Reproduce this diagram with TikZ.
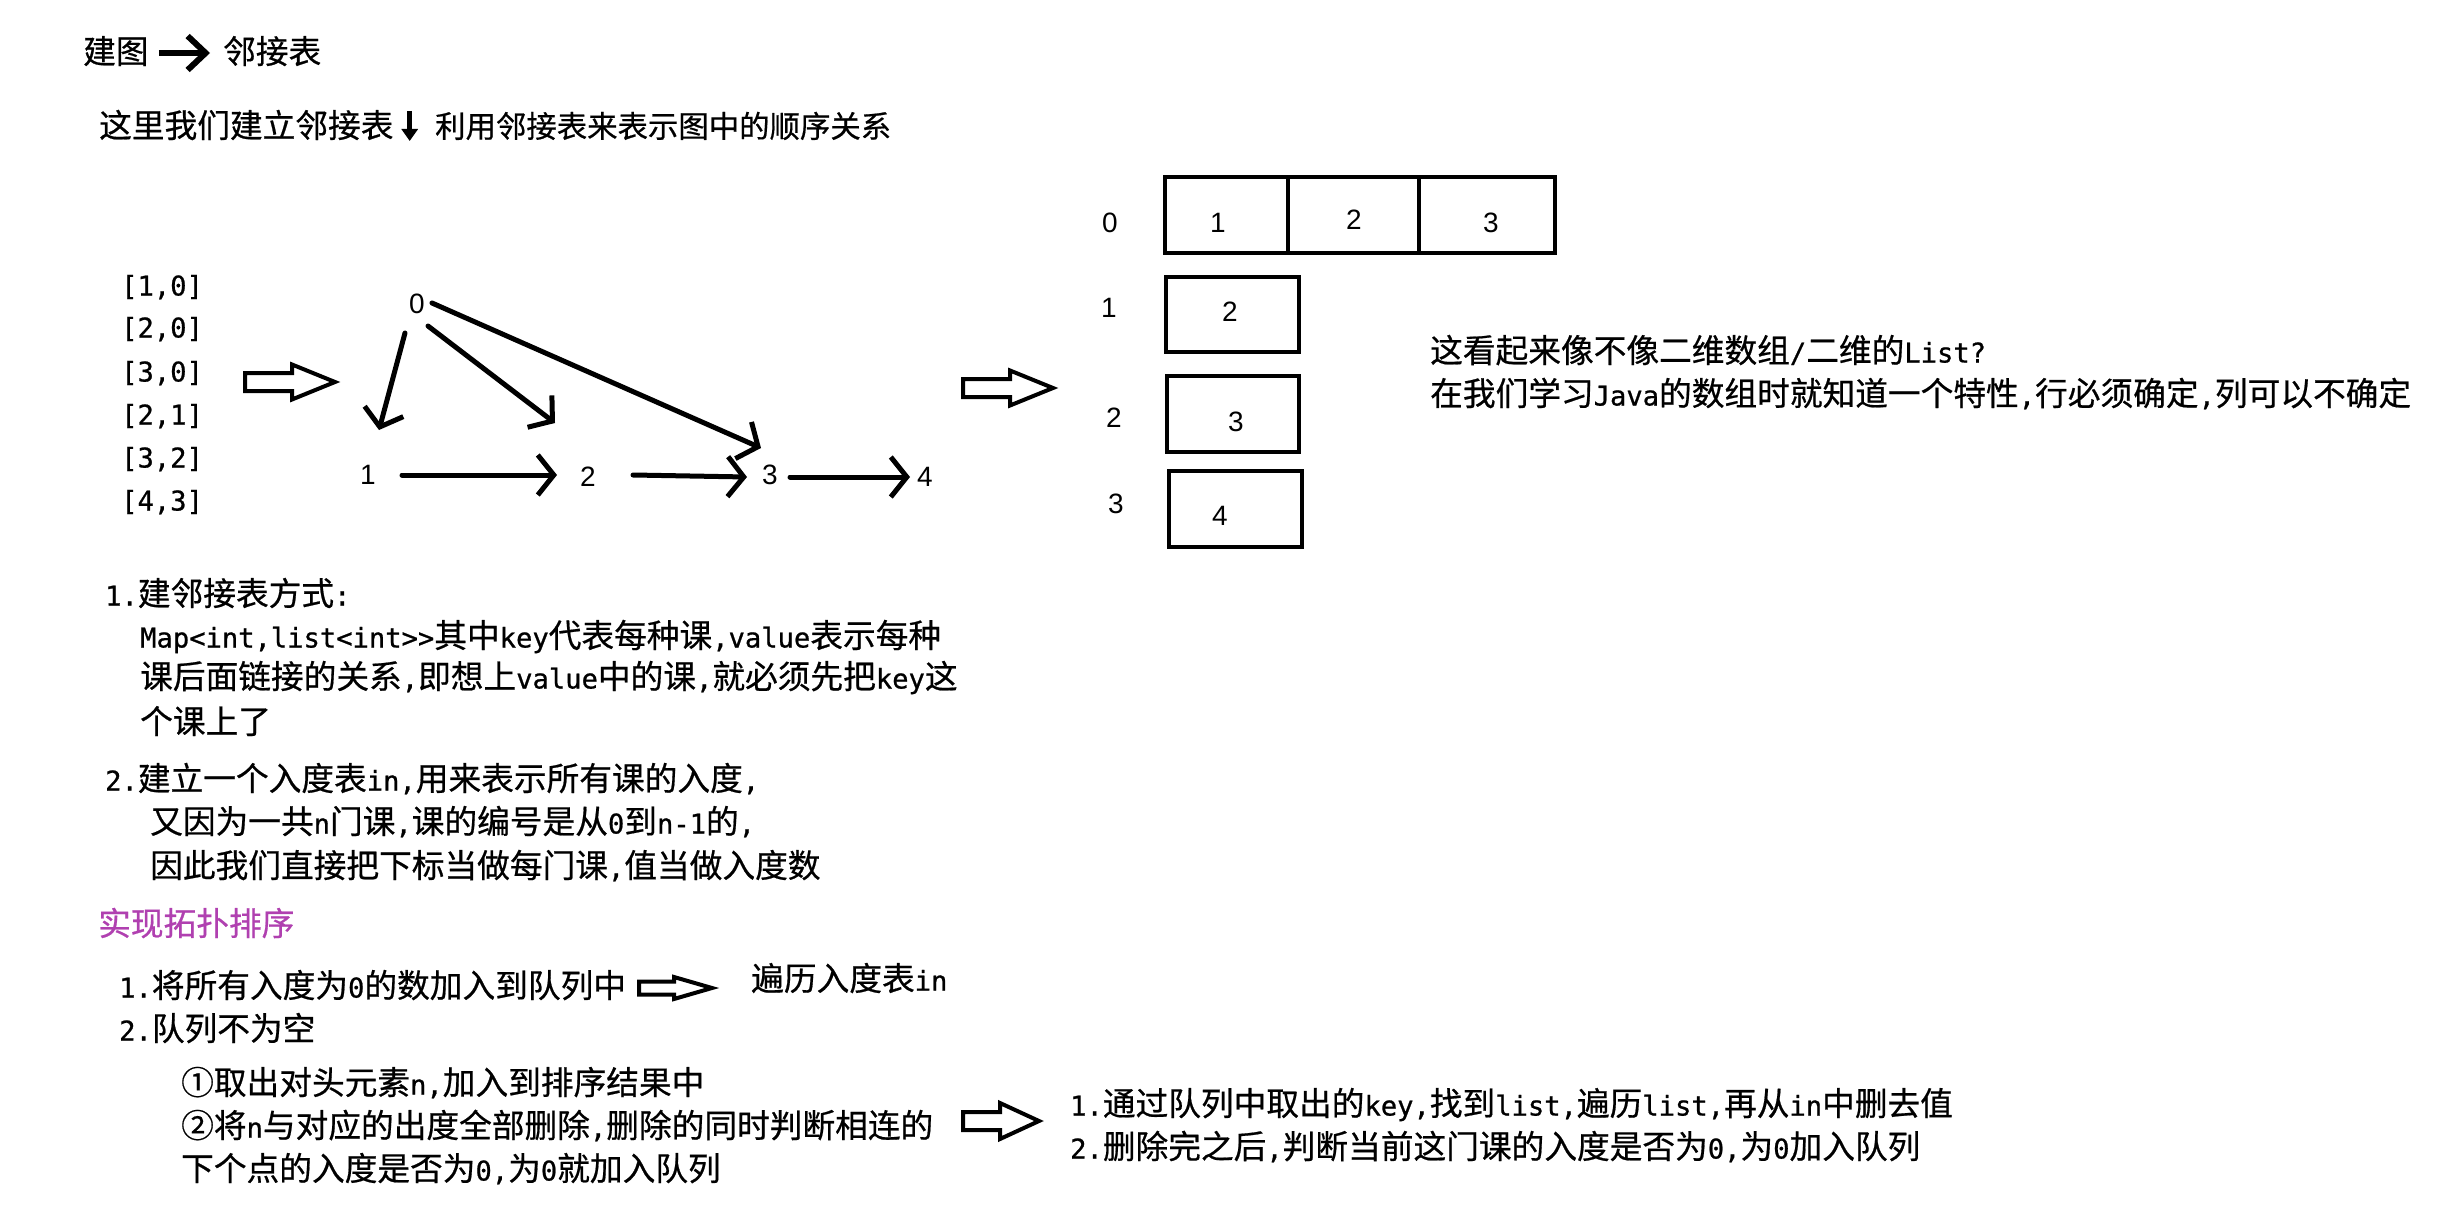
\documentclass[tikz,border=0pt]{standalone}
\usepackage{fontspec}
\setmainfont{Noto Sans CJK SC}[FakeBold=0.6]
\newfontfamily\lat[Scale=0.83,FakeBold=0.8]{DejaVu Sans Mono}
\newfontfamily\dig{Liberation Sans}
\usetikzlibrary{arrows.meta,calc}
\newcommand\E[1]{{\lat #1}}
\definecolor{pur}{RGB}{176,64,176}
\begin{document}
\begin{tikzpicture}[x=1pt,y=-1pt,
 txt/.style={anchor=west, inner sep=0pt, text height=26pt, text depth=5pt, font=\fontsize{32.7}{38}\selectfont},
 gnode/.style={inner sep=0pt, font=\dig\fontsize{28}{32}\selectfont},
 gedge/.style={line width=5pt, line cap=round, -{Straight Barb[length=16pt,width=40pt]}},
 cell/.style={draw, line width=4pt, inner sep=0pt},
 blockarrow/.style={draw, line width=4pt, line join=miter},
]
\fill[white] (0,0) rectangle (2456,1225);
\useasboundingbox (0,0) rectangle (2456,1225);

% title
\node[txt] (T1) at (83,53) {建图};
\node[txt] (T2) at (223,53) {邻接表};
\draw[line width=6pt, -{Straight Barb[length=18pt,width=34pt]}, shorten <=10pt, shorten >=13pt] (T1.east) -- (T2.west);

\node[txt] (T3) at (99,127) {这里我们建立邻接表};
\node[txt, font=\fontsize{30.4}{36}\selectfont] (T4) at (435,127) {利用邻接表来表示图中的顺序关系};
\draw[line width=5pt, -{Triangle[length=12pt,width=16pt]}] ($(T3.east)+(16,-16)$) -- ($(T3.east)+(16,14)$);

% edge list
\foreach \t/\yy [count=\i] in {{[1,0]}/285,{[2,0]}/327,{[3,0]}/371,{[2,1]}/414,{[3,2]}/457,{[4,3]}/500}{
  \node[txt] (e\i) at (121,\yy) {\E{\t}};
}

% hollow arrows
\draw[blockarrow] (245,373) -- (292,373) -- (292,364.5) -- (335,382) -- (292,399.5) -- (292,391) -- (245,391) -- cycle;
\draw[blockarrow] (963,379) -- (1010,379) -- (1010,370.5) -- (1053,388) -- (1010,405.5) -- (1010,397) -- (963,397) -- cycle;
\draw[blockarrow] (963,1112) -- (1000,1112) -- (1000,1103) -- (1039,1121) -- (1000,1139) -- (1000,1130) -- (963,1130) -- cycle;
\draw[blockarrow] (639,981.5) -- (674,981.5) -- (674,977) -- (712,988) -- (674,999) -- (674,994.5) -- (639,994.5) -- cycle;

% graph
\node[gnode] (n0) at (417,304) {0};
\node[gnode] (n1) at (368,475) {1};
\node[gnode] (n2) at (588,477) {2};
\node[gnode] (n3) at (770,475) {3};
\node[gnode] (n4) at (925,477) {4};
\draw[gedge] ($(n0)+(-12,29)$) -- ($(n1)+(11,-45)$);
\draw[gedge] ($(n0)+(11,22)$) -- ($(n2)+(-33,-54)$);
\draw[gedge] ($(n0)+(15,-1)$) -- ($(n3)+(-9,-27)$);
\draw[gedge] ($(n1)+(34,0)$) -- ($(n2)+(-31,-2)$);
\draw[gedge] ($(n2)+(45,-2)$) -- ($(n3)+(-23,2)$);
\draw[gedge] ($(n3)+(20,2)$) -- ($(n4)+(-15,0)$);

% adjacency table
\node[gnode] (r0) at (1110,223) {0};
\node[gnode] (r1) at (1109,308) {1};
\node[gnode] (r2) at (1114,418) {2};
\node[gnode] (r3) at (1116,504) {3};
\node[cell, minimum width=123pt, minimum height=76pt] (c01) at (1226.5,215) {};
\node[cell, minimum width=131pt, minimum height=76pt] (c02) at (1353.5,215) {};
\node[cell, minimum width=136pt, minimum height=76pt] (c03) at (1487,215) {};
\node[cell, minimum width=133pt, minimum height=75pt] (c1) at (1232.5,314.5) {};
\node[cell, minimum width=132pt, minimum height=76pt] (c2) at (1233,414) {};
\node[cell, minimum width=133pt, minimum height=76pt] (c3) at (1235.5,509) {};
\node[gnode] (v01) at (1218,223) {1};
\node[gnode] (v02) at (1354,220) {2};
\node[gnode] (v03) at (1491,223) {3};
\node[gnode] (v1) at (1230,312) {2};
\node[gnode] (v2) at (1236,422) {3};
\node[gnode] (v3) at (1220,516) {4};

% right text
\node[txt] (q1) at (1430,352) {这看起来像不像二维数组\E{/}二维的\E{List?}};
\node[txt] (q2) at (1430,395) {在我们学习\E{Java}的数组时就知道一个特性\E{,}行必须确定\E{,}列可以不确定};

% left block
\node[txt] (L1) at (105,595) {\E{1.}建邻接表方式\E{:}};
\node[txt] (L2) at (140,637) {\E{Map<int,list<int>>}其中\E{key}代表每种课\E{,value}表示每种};
\node[txt] (L3) at (140,678) {课后面链接的关系\E{,}即想上\E{value}中的课\E{,}就必须先把\E{key}这};
\node[txt] (L4) at (140,723) {个课上了};
\node[txt] (L5) at (105,780) {\E{2.}建立一个入度表\E{in,}用来表示所有课的入度\E{,}};
\node[txt] (L6) at (150,823) {又因为一共\E{n}门课\E{,}课的编号是从\E{0}到\E{n-1}的\E{,}};
\node[txt] (L7) at (150,867) {因此我们直接把下标当做每门课\E{,}值当做入度数};

\node[txt, text=pur] (P) at (98,925) {实现拓扑排序};

\node[txt] (B1) at (119,987) {\E{1.}将所有入度为\E{0}的数加入到队列中};
\node[txt] (B1r) at (751,980) {遍历入度表\E{in}};
\node[txt] (B2) at (119,1030) {\E{2.}队列不为空};
\node[txt] (B3) at (181,1084) {①取出对头元素\E{n,}加入到排序结果中};
\node[txt] (B4) at (181,1127) {②将\E{n}与对应的出度全部删除\E{,}删除的同时判断相连的};
\node[txt] (B5) at (181,1170) {下个点的入度是否为\E{0,}为\E{0}就加入队列};
\node[txt] (R1) at (1070,1105) {\E{1.}通过队列中取出的\E{key,}找到\E{list,}遍历\E{list,}再从\E{in}中删去值};
\node[txt] (R2) at (1070,1148) {\E{2.}删除完之后\E{,}判断当前这门课的入度是否为\E{0,}为\E{0}加入队列};
\end{tikzpicture}
\end{document}
